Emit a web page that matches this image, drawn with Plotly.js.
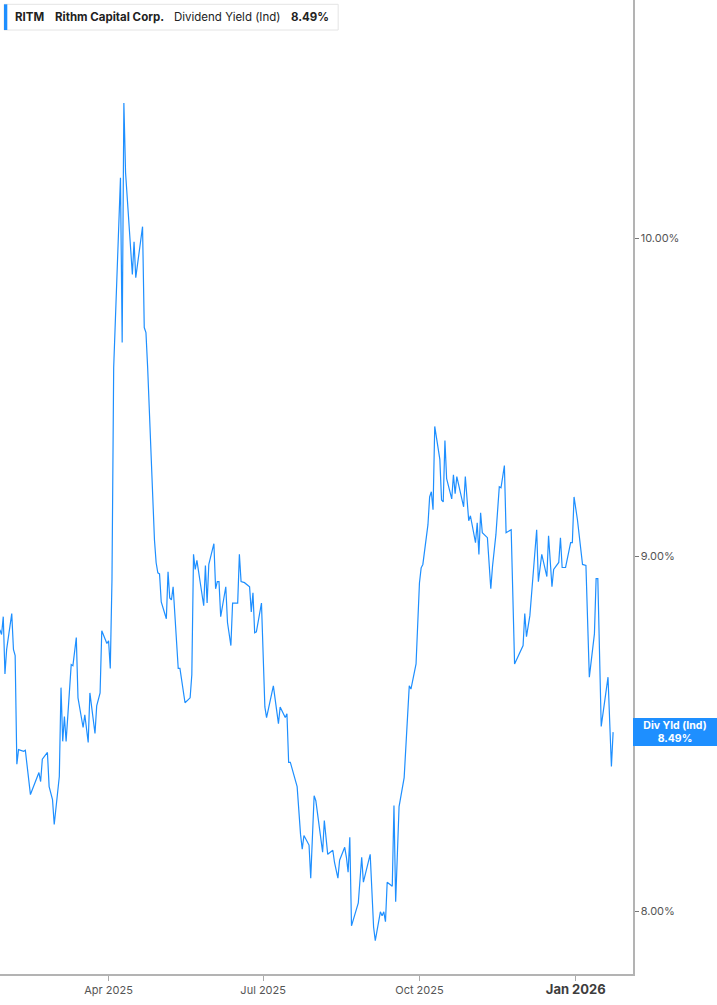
<!DOCTYPE html>
<html>
<head>
<meta charset="utf-8">
<script src="https://cdn.plot.ly/plotly-3.0.1.min.js"></script>
<style>
  html, body { margin: 0; padding: 0; background: #fff; }
  #chart { width: 717px; height: 1005px; }
</style>
</head>
<body>
<div id="chart"></div>
<script>
// RITM dividend yield (ind)
let dates = [
  "2025-01-27", "2025-01-28", "2025-01-29", "2025-01-30", "2025-01-31", "2025-02-03",
  "2025-02-04", "2025-02-05", "2025-02-06", "2025-02-07", "2025-02-10", "2025-02-11",
  "2025-02-14", "2025-02-17", "2025-02-19", "2025-02-20", "2025-02-21", "2025-02-24",
  "2025-02-25", "2025-02-27", "2025-02-28", "2025-03-03", "2025-03-04", "2025-03-05",
  "2025-03-06", "2025-03-07", "2025-03-10", "2025-03-11", "2025-03-13", "2025-03-14",
  "2025-03-17", "2025-03-18", "2025-03-20", "2025-03-21", "2025-03-24", "2025-03-25",
  "2025-03-27", "2025-03-28", "2025-03-31", "2025-04-01", "2025-04-02", "2025-04-03",
  "2025-04-04", "2025-04-08", "2025-04-09", "2025-04-10", "2025-04-11", "2025-04-15",
  "2025-04-16", "2025-04-17", "2025-04-21", "2025-04-22", "2025-04-23", "2025-04-24",
  "2025-04-28", "2025-04-29", "2025-04-30", "2025-05-01", "2025-05-02", "2025-05-05",
  "2025-05-06", "2025-05-07", "2025-05-08", "2025-05-09", "2025-05-12", "2025-05-13",
  "2025-05-16", "2025-05-19", "2025-05-20", "2025-05-21", "2025-05-22", "2025-05-23",
  "2025-05-27", "2025-05-28", "2025-05-29", "2025-05-30", "2025-06-02", "2025-06-03",
  "2025-06-04", "2025-06-05", "2025-06-06", "2025-06-09", "2025-06-10", "2025-06-12",
  "2025-06-13", "2025-06-16", "2025-06-17", "2025-06-18", "2025-06-20", "2025-06-23",
  "2025-06-24", "2025-06-25", "2025-06-26", "2025-06-27", "2025-06-30", "2025-07-02",
  "2025-07-03", "2025-07-07", "2025-07-10", "2025-07-11", "2025-07-14", "2025-07-15",
  "2025-07-16", "2025-07-17", "2025-07-21", "2025-07-23", "2025-07-24", "2025-07-25",
  "2025-07-28", "2025-07-29", "2025-07-31", "2025-08-01", "2025-08-05", "2025-08-06",
  "2025-08-08", "2025-08-11", "2025-08-12", "2025-08-14", "2025-08-15", "2025-08-18",
  "2025-08-19", "2025-08-20", "2025-08-21", "2025-08-22", "2025-08-26", "2025-08-28",
  "2025-08-29", "2025-09-02", "2025-09-04", "2025-09-05", "2025-09-08", "2025-09-09",
  "2025-09-10", "2025-09-11", "2025-09-12", "2025-09-15", "2025-09-16", "2025-09-17",
  "2025-09-19", "2025-09-22", "2025-09-25", "2025-09-26", "2025-09-29", "2025-10-01",
  "2025-10-02", "2025-10-03", "2025-10-06", "2025-10-07", "2025-10-08", "2025-10-09",
  "2025-10-10", "2025-10-13", "2025-10-14", "2025-10-15", "2025-10-16", "2025-10-17",
  "2025-10-20", "2025-10-21", "2025-10-22", "2025-10-23", "2025-10-27", "2025-10-28",
  "2025-10-30", "2025-10-31", "2025-11-03", "2025-11-04", "2025-11-05", "2025-11-06",
  "2025-11-07", "2025-11-10", "2025-11-12", "2025-11-13", "2025-11-15", "2025-11-17",
  "2025-11-18", "2025-11-20", "2025-11-21", "2025-11-24", "2025-11-26", "2025-12-01",
  "2025-12-02", "2025-12-03", "2025-12-05", "2025-12-09", "2025-12-10", "2025-12-12",
  "2025-12-15", "2025-12-16", "2025-12-18", "2025-12-19", "2025-12-22", "2025-12-23",
  "2025-12-24", "2025-12-26", "2025-12-29", "2025-12-30", "2025-12-31", "2026-01-02",
  "2026-01-05", "2026-01-07", "2026-01-09", "2026-01-12", "2026-01-13", "2026-01-14",
  "2026-01-16", "2026-01-20", "2026-01-22", "2026-01-23"
];

let divYield = [
  8.783, 8.769, 8.821, 8.655, 8.726, 8.830,
  8.726, 8.708, 8.400, 8.441, 8.436, 8.439,
  8.316, 8.350, 8.377, 8.352, 8.414, 8.433,
  8.338, 8.302, 8.234, 8.366, 8.616, 8.464,
  8.534, 8.464, 8.682, 8.679, 8.760, 8.587,
  8.503, 8.539, 8.461, 8.601, 8.486, 8.564,
  8.601, 8.780, 8.743, 8.751, 8.671, 8.930,
  9.580, 10.202, 9.660, 10.458, 10.219, 9.880,
  9.988, 9.870, 10.038, 9.708, 9.692, 9.580,
  9.049, 8.980, 8.950, 8.947, 8.864, 8.815,
  8.953, 8.876, 8.870, 8.909, 8.671, 8.671,
  8.573, 8.587, 8.653, 9.005, 8.960, 8.987,
  8.853, 8.972, 8.861, 8.975, 9.037, 8.903,
  8.924, 8.924, 8.821, 8.909, 8.804, 8.737,
  8.861, 8.861, 9.005, 8.924, 8.921, 8.909,
  8.835, 8.891, 8.774, 8.777, 8.861, 8.561,
  8.531, 8.621, 8.514, 8.561, 8.531, 8.542,
  8.405, 8.405, 8.338, 8.207, 8.167, 8.204,
  8.178, 8.089, 8.313, 8.299, 8.159, 8.245,
  8.153, 8.164, 8.131, 8.089, 8.137, 8.172,
  8.145, 8.105, 8.199, 7.962, 8.023, 8.145,
  8.078, 8.153, 7.959, 7.923, 7.999, 7.989,
  7.999, 7.973, 8.078, 8.067, 8.286, 8.026,
  8.283, 8.363, 8.621, 8.612, 8.684, 8.920,
  8.965, 8.975, 9.094, 9.178, 9.194, 9.139,
  9.395, 9.293, 9.169, 9.163, 9.351, 9.234,
  9.172, 9.246, 9.188, 9.240, 9.148, 9.240,
  9.106, 9.121, 9.040, 9.100, 9.005, 9.130,
  9.070, 9.055, 8.903, 8.969, 9.064, 9.209,
  9.206, 9.274, 9.070, 9.079, 8.684, 8.737,
  8.830, 8.763, 8.824, 9.079, 8.924, 9.005,
  8.939, 9.061, 8.909, 8.960, 8.981, 9.055,
  8.966, 8.966, 9.040, 9.040, 9.178, 9.109,
  8.975, 8.972, 8.646, 8.771, 8.933, 8.933,
  8.506, 8.646, 8.394, 8.490
];

let xTickVals = ["2025-04-01", "2025-07-01", "2025-10-01", "2026-01-01"];
let xTickText = ["Apr 2025", "Jul 2025", "Oct 2025", "<b><span style=\"font-size:13px;fill:#3d3d3d\">Jan 2026</span></b>"];
let yTickVals = [8, 9, 10];
let yTickText = ["8.00%", "9.00%", "10.00%"];

let lastValue = divYield[divYield.length - 1];
let BLUE = "#1e8fff";

// plot area is 632.7 x 974 px, helpers to put things in paper coords
const PW = 632.7, PH = 974;
function px(x) { return x / PW; }
function py(y) { return 1 - y / PH; }

let trace = {
  x: dates,
  y: divYield,
  mode: "lines",
  type: "scatter",
  line: { color: BLUE, width: 1.2 },
  hoverinfo: "skip"
};

let layout = {
  width: 717,
  height: 1005,
  margin: { l: 0, r: 84.3, t: 0, b: 31 },
  paper_bgcolor: "#fff",
  plot_bgcolor: "#fff",
  showlegend: false,
  hovermode: false,
  font: { family: "Inter, Roboto, sans-serif", size: 11, color: "#555" },
  xaxis: {
    type: "date",
    range: ["2025-01-27 02:00", "2026-02-03 17:00"],
    tickmode: "array",
    tickvals: xTickVals,
    ticktext: xTickText,
    ticks: "outside",
    ticklen: 5,
    tickwidth: 1,
    tickcolor: "#aaa",
    showgrid: false,
    zeroline: false,
    showline: true,
    linecolor: "#b3b3b3",
    linewidth: 2,
    tickfont: { family: "Inter, Roboto, sans-serif", size: 11, color: "#555" },
    fixedrange: true
  },
  yaxis: {
    type: "log",
    side: "right",
    range: [Math.log10(7.836), Math.log10(10.821)],
    tickmode: "array",
    tickvals: yTickVals,
    ticktext: yTickText,
    ticks: "outside",
    ticklen: 4,
    tickwidth: 1,
    tickcolor: "#777",
    showgrid: false,
    zeroline: false,
    showline: true,
    linecolor: "#b3b3b3",
    linewidth: 1.5,
    tickfont: { family: "Inter, Roboto, sans-serif", size: 11, color: "#555" },
    fixedrange: true
  },
  shapes: [
    {
      type: "rect", xref: "paper", yref: "paper",
      x0: px(4), x1: px(338), y0: py(30), y1: py(4.3),
      line: { color: "#e4e4e4", width: 1 },
      fillcolor: "#fff", layer: "above"
    },
    {
      type: "rect", xref: "paper", yref: "paper",
      x0: px(4), x1: px(7.3), y0: py(30), y1: py(4.3),
      line: { width: 0 },
      fillcolor: BLUE, layer: "above"
    }
  ],
  annotations: [
    { text: "<b>RITM</b>", x: px(13), y: py(17) },
    { text: "<b>Rithm Capital Corp.</b>", x: px(52.5), y: py(17) },
    { text: "Dividend Yield (Ind)", x: px(172), y: py(17) },
    { text: "<b>" + lastValue.toFixed(2) + "%</b>", x: px(289), y: py(17) }
  ].map(a => Object.assign({
    xref: "paper", yref: "paper", xanchor: "left", yanchor: "middle",
    showarrow: false,
    font: { family: "Inter, Roboto, sans-serif", size: 11.5, color: "#222" }
  }, a)).concat([
    {
      xref: "paper", yref: "y",
      x: 1, y: Math.log10(lastValue),
      xanchor: "left", yanchor: "middle",
      text: "<b>Div Yld (Ind)</b><br><b>" + lastValue.toFixed(2) + "%</b>",
      showarrow: false,
      bgcolor: BLUE,
      borderpad: 1,
      borderwidth: 0,
      width: 82,
      height: 26,
      align: "center",
      font: { family: "Inter, Roboto, sans-serif", size: 10.5, color: "#fff" }
    }
  ])
};

Plotly.newPlot("chart", [trace], layout, { displayModeBar: false, staticPlot: true });
</script>
</body>
</html>
